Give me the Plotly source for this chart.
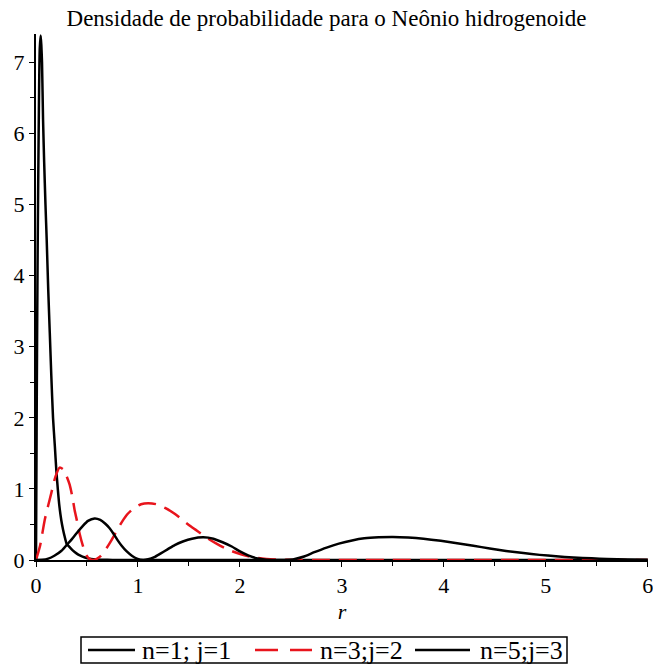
import plotly.graph_objects as go

# ---------------- data ----------------
r_n1 = [0.0, 0.004, 0.008, 0.012, 0.016, 0.021, 0.026, 0.031, 0.037, 0.046,
        0.052, 0.059, 0.069, 0.080, 0.093, 0.105, 0.120, 0.135, 0.150, 0.167,
        0.185, 0.199, 0.215, 0.230, 0.248, 0.265, 0.281, 0.300, 0.330, 0.360,
        0.400, 0.430, 0.480, 0.540, 0.600, 0.700, 0.800, 1.0, 6.0]
p_n1 = [0.0, 1.2, 2.4, 3.4, 4.3, 5.2, 6.0, 6.7, 7.2, 7.38,
        7.25, 7.0, 6.2, 5.6, 5.0, 4.5, 3.8, 3.2, 2.6, 2.0,
        1.6, 1.27, 0.98, 0.75, 0.56, 0.43, 0.33, 0.23, 0.18, 0.135,
        0.09, 0.065, 0.035, 0.015, 0.007, 0.002, 0.0, 0.0, 0.0]

r_n3 = [0.0, 0.04, 0.085, 0.12, 0.15, 0.19, 0.232, 0.27, 0.30, 0.33,
        0.355, 0.379, 0.405, 0.428, 0.46, 0.49, 0.52, 0.56, 0.60, 0.63,
        0.67, 0.72, 0.78, 0.84, 0.90, 0.96, 1.03, 1.10, 1.18, 1.27,
        1.36, 1.44, 1.52, 1.61, 1.69, 1.77, 1.85, 1.93, 2.01, 2.10,
        2.18, 2.26, 2.35, 2.45, 2.60, 6.0]
p_n3 = [0.0, 0.20, 0.56, 0.77, 0.94, 1.17, 1.30, 1.27, 1.18, 1.06,
        0.90, 0.70, 0.53, 0.37, 0.20, 0.08, 0.02, 0.0, 0.02, 0.05,
        0.12, 0.23, 0.38, 0.53, 0.65, 0.73, 0.785, 0.80, 0.785, 0.73,
        0.65, 0.56, 0.47, 0.38, 0.30, 0.23, 0.17, 0.12, 0.08, 0.048,
        0.027, 0.014, 0.006, 0.002, 0.0, 0.0]

r_n5 = [0.0, 0.06, 0.12, 0.18, 0.25, 0.30, 0.35, 0.40, 0.46, 0.51,
        0.575, 0.63, 0.68, 0.72, 0.76, 0.80, 0.84, 0.89, 0.94, 0.99,
        1.05, 1.10, 1.16, 1.22, 1.29, 1.36, 1.44, 1.53, 1.64, 1.74,
        1.83, 1.92, 2.00, 2.08, 2.16, 2.26, 2.43, 2.52, 2.62, 2.73,
        2.85, 2.97, 3.10, 3.22, 3.36, 3.50, 3.65, 3.80, 3.97, 4.13,
        4.29, 4.45, 4.61, 4.78, 4.94, 5.10, 5.27, 5.45, 5.60, 5.80, 6.0]
p_n5 = [0.0, 0.003, 0.02, 0.06, 0.13, 0.21, 0.29, 0.38, 0.48, 0.55,
        0.585, 0.565, 0.51, 0.45, 0.37, 0.28, 0.20, 0.12, 0.06, 0.02,
        0.0, 0.01, 0.04, 0.09, 0.15, 0.21, 0.26, 0.30, 0.32, 0.30,
        0.25, 0.19, 0.12, 0.065, 0.025, 0.005, 0.0, 0.008, 0.045, 0.11,
        0.175, 0.23, 0.275, 0.305, 0.32, 0.325, 0.317, 0.30, 0.27, 0.235,
        0.20, 0.162, 0.128, 0.097, 0.072, 0.052, 0.036, 0.023, 0.015, 0.008, 0.004]

names = ["n=1; j=1", "n=3;j=2", "n=5;j=3"]
title_text = "Densidade de probabilidade para o Neônio hidrogenoide"
x_ticks = [0, 1, 2, 3, 4, 5, 6]
y_ticks = [0, 1, 2, 3, 4, 5, 6, 7]

FONT = "Liberation Serif, Times New Roman, Times, serif"
W, H = 653, 664
ML, MR, MT, MB = 36, 5, 34, 104
PW, PH = W - ML - MR, H - MT - MB

styles = [dict(color="black", width=2.5),
          dict(color="#e8141c", width=2.5, dash="18px,9px"),
          dict(color="black", width=2.5)]
series = [(r_n1, p_n1), (r_n3, p_n3), (r_n5, p_n5)]

fig = go.Figure()
for (xs, ys), nm, st in zip(series, names, styles):
    fig.add_trace(go.Scatter(x=xs, y=ys, mode="lines", name=nm, showlegend=False,
                             line=dict(shape="spline", smoothing=0.6, **st)))


def px2x(px):
    return (px - ML) / PW


def py2y(py):
    return (H - MB - py) / PH


# ---- legend drawn as a boxed row (like the reference) ----
leg_box = (81, 637, 567, 663)
leg_y = 650
leg_items = [(88, 135, 140), (255, 312, 318), (415, 470, 478)]  # line start, line end, text x
shapes = [dict(type="rect", xref="paper", yref="paper",
               x0=px2x(leg_box[0]), x1=px2x(leg_box[2]),
               y0=py2y(leg_box[3]), y1=py2y(leg_box[1]),
               line=dict(color="black", width=1.5), fillcolor="white", layer="above")]
annotations = []
for (l0, l1, tx), nm, st in zip(leg_items, names, styles):
    ln = dict(color=st["color"], width=2.5)
    if "dash" in st:
        ln["dash"] = "23px,12px"
    shapes.append(dict(type="line", xref="paper", yref="paper",
                       x0=px2x(l0), x1=px2x(l1), y0=py2y(leg_y), y1=py2y(leg_y),
                       line=ln, layer="above"))
    annotations.append(dict(text=nm, xref="paper", yref="paper",
                            x=px2x(tx), y=py2y(leg_y), xanchor="left", yanchor="middle",
                            showarrow=False, font=dict(family=FONT, size=26, color="black")))

fig.update_layout(
    width=W, height=H,
    margin=dict(l=ML, r=MR, t=MT, b=MB, autoexpand=False),
    paper_bgcolor="white", plot_bgcolor="white",
    font=dict(family=FONT, color="black", size=22),
    title=dict(text=title_text, x=0.5, xref="container", xanchor="center",
               y=1 - 18 / H, yref="container", yanchor="middle",
               font=dict(family=FONT, size=23, color="black")),
    showlegend=False,
    shapes=shapes,
    annotations=annotations,
)
fig.update_xaxes(range=[0, 6.002], tickvals=x_ticks, ticks="outside", ticklen=5,
                 tickwidth=1, tickcolor="black", showline=True, linecolor="black",
                 linewidth=2, showgrid=False, zeroline=False, ticklabeloverflow="allow",
                 tickfont=dict(family=FONT, size=22),
                 minor=dict(dtick=0.5, ticks="outside", ticklen=4, tickcolor="black"),
                 title=dict(text="<i>r</i>", font=dict(family=FONT, size=22), standoff=6))
fig.update_yaxes(range=[0, 7.4], tickvals=y_ticks, ticks="outside", ticklen=5,
                 tickwidth=1, tickcolor="black", showline=True, linecolor="black",
                 linewidth=2, showgrid=False, zeroline=False,
                 tickfont=dict(family=FONT, size=22),
                 minor=dict(dtick=0.5, ticks="outside", ticklen=4, tickcolor="black"))

fig.write_html("out.html")
